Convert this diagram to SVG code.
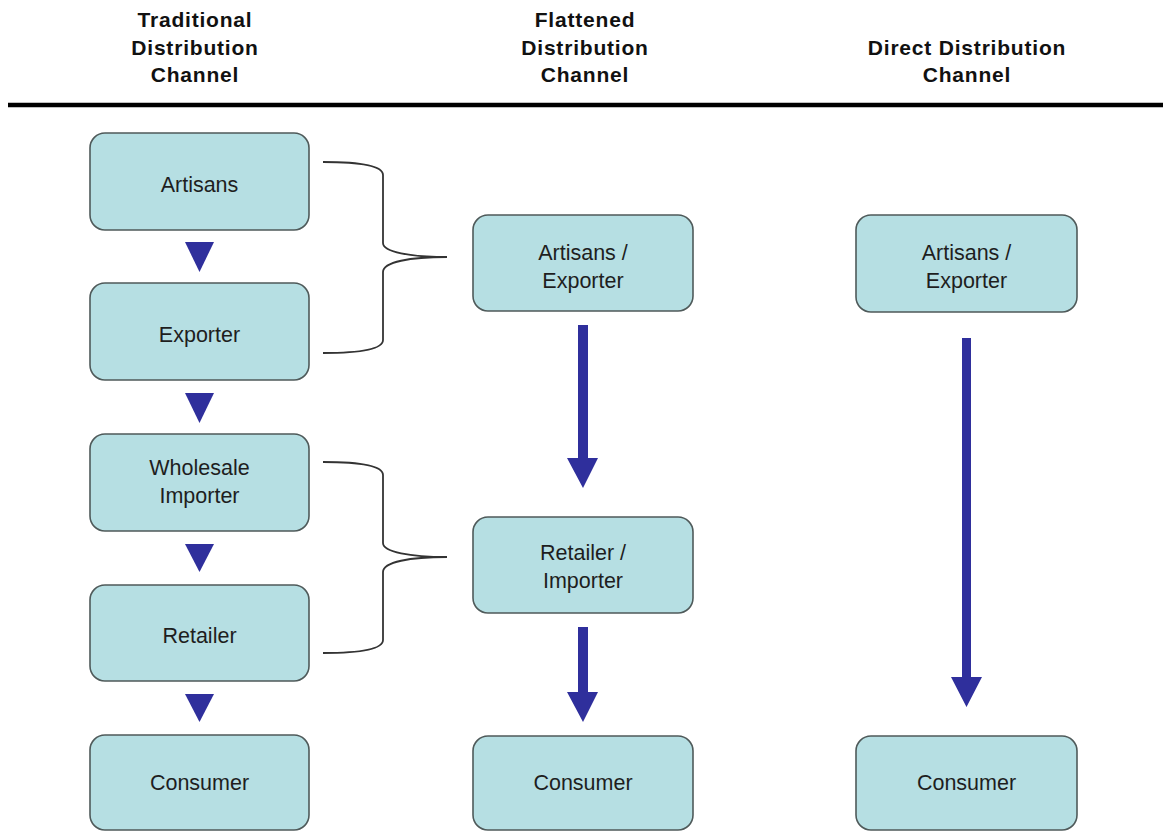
<svg xmlns="http://www.w3.org/2000/svg" width="1163" height="831" viewBox="0 0 1163 831">
<style>
.box{fill:#b6dfe3;stroke:#4f5a5a;stroke-width:1.6}
.lbl{font-family:"Liberation Sans",Arial,sans-serif;font-size:21.5px;fill:#1e1e1e;text-anchor:middle}
.hdr{font-family:"Liberation Sans",Arial,sans-serif;font-size:21px;letter-spacing:0.8px;font-weight:bold;fill:#111;text-anchor:middle}
.arr{fill:#2f2f9c}
.brace{fill:none;stroke:#333;stroke-width:1.8}
</style>
<rect width="1163" height="831" fill="#ffffff"/>
<g id="headers">
<text class="hdr" x="195" y="27">Traditional</text>
<text class="hdr" x="195" y="55">Distribution</text>
<text class="hdr" x="195" y="82">Channel</text>
<text class="hdr" x="585" y="27">Flattened</text>
<text class="hdr" x="585" y="55">Distribution</text>
<text class="hdr" x="585" y="82">Channel</text>
<text class="hdr" x="967" y="55">Direct Distribution</text>
<text class="hdr" x="967" y="82">Channel</text>
<line x1="8" y1="105" x2="1163" y2="105" stroke="#000" stroke-width="4.5"/>
</g>
<g id="t-artisans"><rect class="box" x="90" y="133" width="219" height="97" rx="15"/><text class="lbl" x="199.5" y="192">Artisans</text></g>
<g id="t-exporter"><rect class="box" x="90" y="283" width="219" height="97" rx="15"/><text class="lbl" x="199.5" y="342">Exporter</text></g>
<g id="t-wholesale"><rect class="box" x="90" y="434" width="219" height="97" rx="15"/><text class="lbl" x="199.5" y="475">Wholesale</text><text class="lbl" x="199.5" y="503">Importer</text></g>
<g id="t-retailer"><rect class="box" x="90" y="585" width="219" height="96" rx="15"/><text class="lbl" x="199.5" y="643">Retailer</text></g>
<g id="t-consumer"><rect class="box" x="90" y="735" width="219" height="95" rx="15"/><text class="lbl" x="199.5" y="790">Consumer</text></g>
<g id="f-artisans-exporter"><rect class="box" x="473" y="215" width="220" height="96" rx="15"/><text class="lbl" x="583" y="260">Artisans /</text><text class="lbl" x="583" y="288">Exporter</text></g>
<g id="f-retailer-importer"><rect class="box" x="473" y="517" width="220" height="96" rx="15"/><text class="lbl" x="583" y="560">Retailer /</text><text class="lbl" x="583" y="588">Importer</text></g>
<g id="f-consumer"><rect class="box" x="473" y="736" width="220" height="94" rx="15"/><text class="lbl" x="583" y="790">Consumer</text></g>
<g id="d-artisans-exporter"><rect class="box" x="856" y="215" width="221" height="97" rx="15"/><text class="lbl" x="966.5" y="260">Artisans /</text><text class="lbl" x="966.5" y="288">Exporter</text></g>
<g id="d-consumer"><rect class="box" x="856" y="736" width="221" height="94" rx="15"/><text class="lbl" x="966.5" y="790">Consumer</text></g>
<g id="connectors">
<polygon class="arr" points="185,242 214,242 199.5,272"/>
<polygon class="arr" points="185,393 214,393 199.5,423"/>
<polygon class="arr" points="185,544 214,544 199.5,572"/>
<polygon class="arr" points="185,694 214,694 199.5,722"/>
<polygon class="arr" points="578,325 588,325 588,458 598,458 583,488 567,458 578,458"/>
<polygon class="arr" points="578,627 588,627 588,692 598,692 583,722 567,692 578,692"/>
<polygon class="arr" points="962,338 971,338 971,677 982,677 966.5,707 951,677 962,677"/>
<path class="brace" d="M323,162 C355,162 383,165 383,175 L383,243 C383,252 410,257 447,257 C410,257 383,262 383,272 L383,340 C383,350 355,353 323,353"/>
<path class="brace" d="M323,462 C355,462 383,465 383,475 L383,543 C383,552 410,557 447,557 C410,557 383,562 383,572 L383,640 C383,650 355,653 323,653"/>
</g>
</svg>
